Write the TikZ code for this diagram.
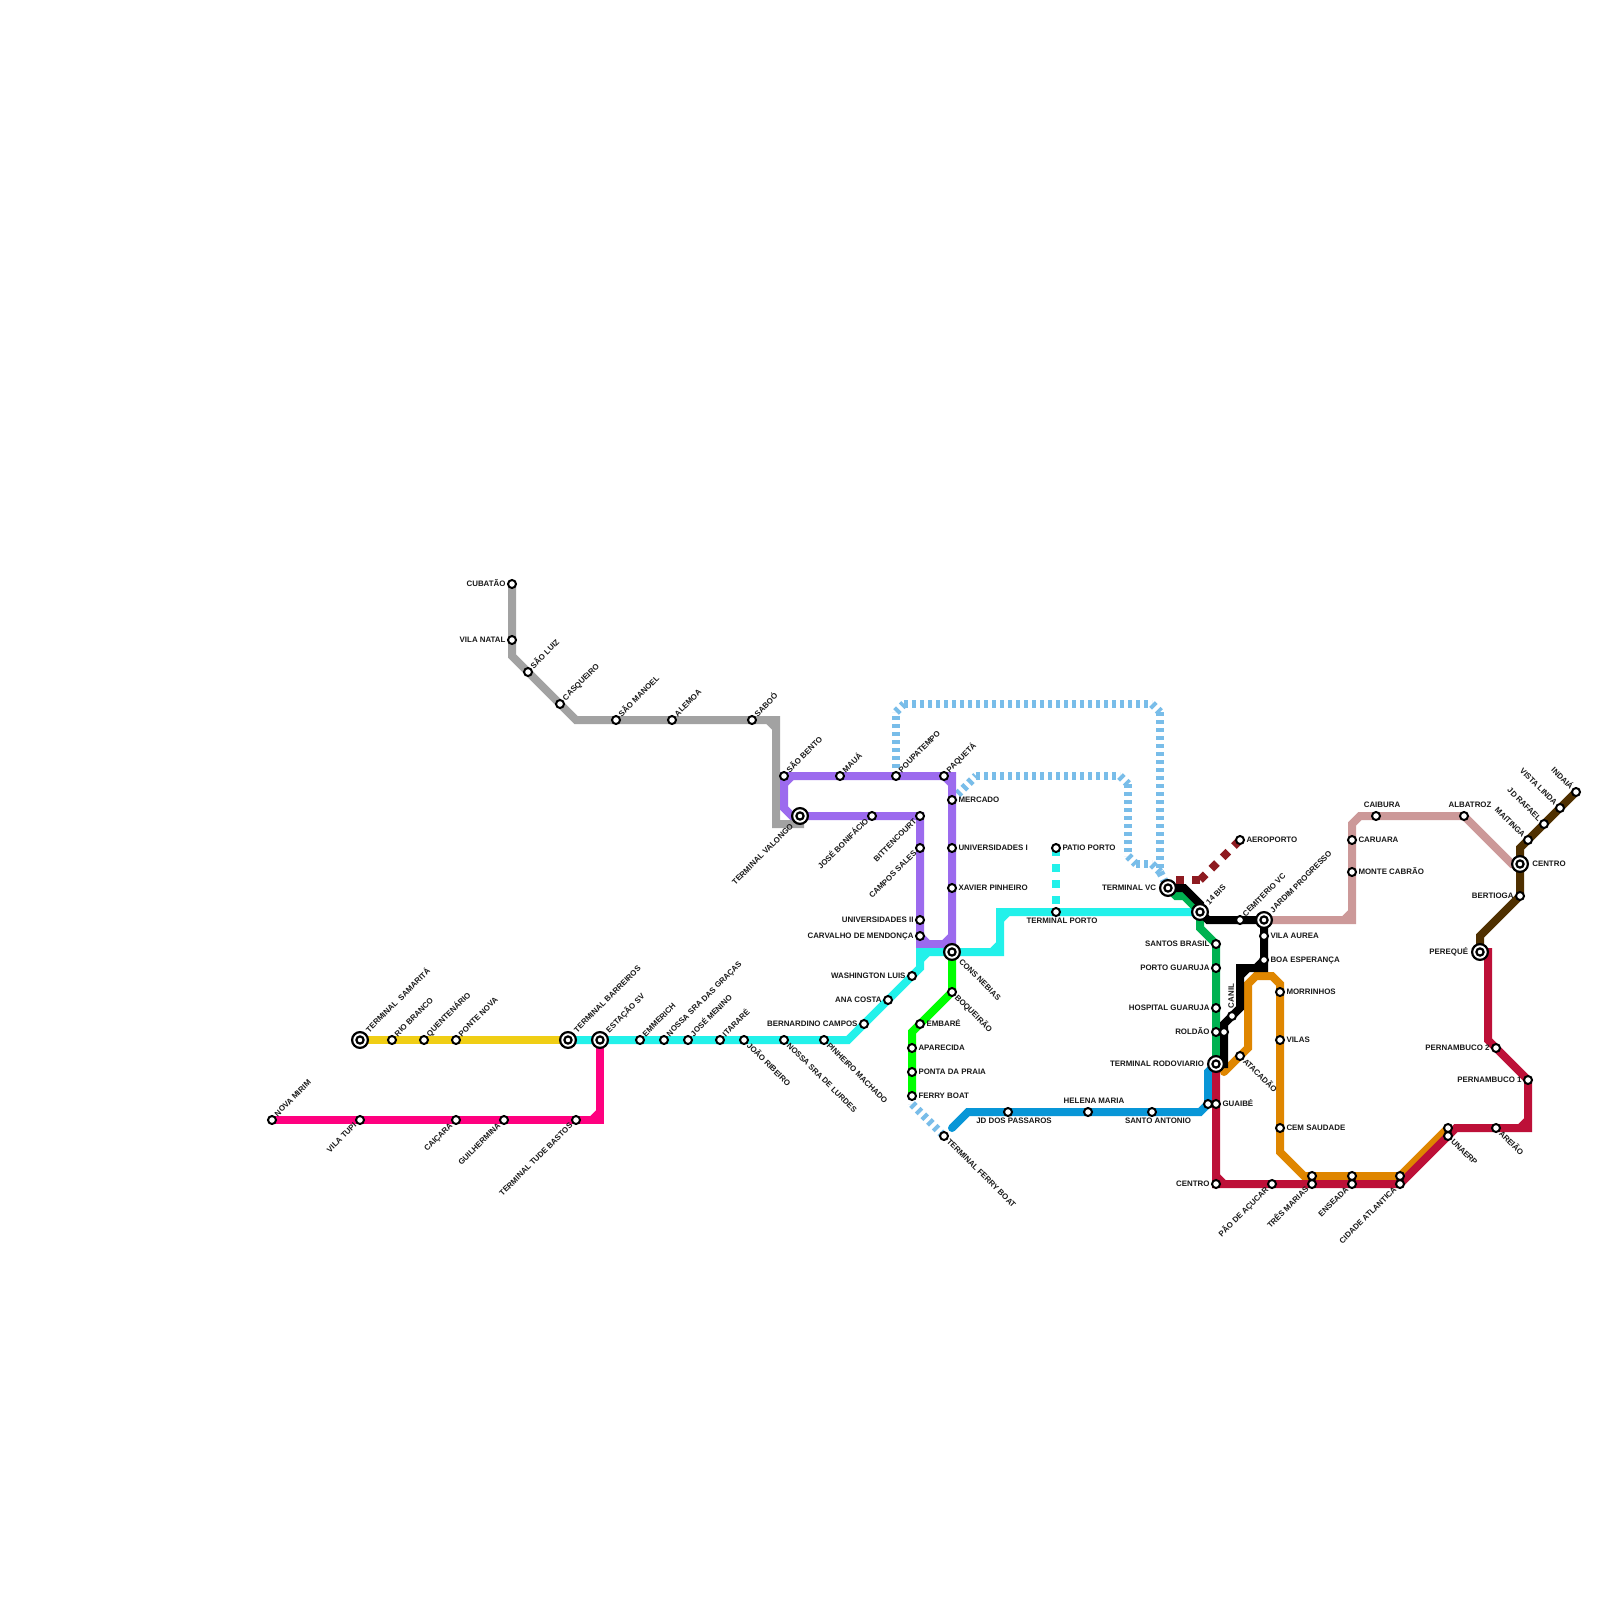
\documentclass[tikz,border=0pt]{standalone}
\usepackage{fontspec}
\setmainfont{Liberation Sans}
\usetikzlibrary{calc}
\definecolor{cYel}{HTML}{F0CE15}
\definecolor{cPnk}{HTML}{FF007F}
\definecolor{cCya}{HTML}{22F1EA}
\definecolor{cGry}{HTML}{A2A2A2}
\definecolor{cPur}{HTML}{9C6BEE}
\definecolor{cLim}{HTML}{00FF00}
\definecolor{cGrn}{HTML}{00B251}
\definecolor{cBlu}{HTML}{0896D7}
\definecolor{cRed}{HTML}{BD1038}
\definecolor{cOra}{HTML}{DF8600}
\definecolor{cRos}{HTML}{CC9999}
\definecolor{cBrn}{HTML}{4F3000}
\definecolor{cSky}{HTML}{79BDE9}
\definecolor{cWin}{HTML}{8E1B21}
\pgfdeclarelayer{lines}
\pgfsetlayers{lines,main}
\tikzset{
  ln/.style={line width=8pt,line join=miter,miter limit=10,line cap=butt},
  sq/.style={ln,dash pattern=on 8pt off 8pt},
  dot/.style={ln,dash pattern=on 4pt off 4pt},
  kindS/.style={circle,draw=black,fill=white,line width=2pt,minimum size=8pt,inner sep=0pt,outer sep=0pt},
  kindB/.style={circle,draw=black,fill=white,line width=2.2pt,minimum size=15.8pt,inner sep=0pt,outer sep=0pt,
    path picture={\draw[line width=2.2pt,fill=white] (path picture bounding box.center) circle (3.6pt);}},
  lbl/.style={font=\bfseries\fontsize{7.9}{9}\selectfont,inner sep=0pt,outer sep=0pt,text height=5.7pt,text depth=0pt,text=black!90},
  dR/.style={anchor=west},
  dL/.style={anchor=east},
  dNE/.style={anchor=west,rotate=45},
  dSE/.style={anchor=west,rotate=-45},
  dSW/.style={anchor=east,rotate=45},
  dNW/.style={anchor=east,rotate=-45},
  dA/.style={anchor=center},
  dB/.style={anchor=center},
  dU/.style={anchor=west,rotate=90},
}
% label offsets
\def\oxSR{6.5}\def\oySR{-.7}
\def\oxSL{-6.5}\def\oySL{-.7}
\def\oxSNE{3.8}\def\oySNE{-5}
\def\oxSSE{4.5}\def\oySSE{4}
\def\oxSSW{-5}\def\oySSW{4}
\def\oxSNW{-4}\def\oySNW{-4}
\def\oxSA{6}\def\oySA{-11}
\def\oxSB{6}\def\oySB{9}
\def\oxSU{-1}\def\oySU{-8}
\def\oxBR{12.3}\def\oyBR{-.7}
\def\oxBL{-12}\def\oyBL{-.7}
\def\oxBNE{7.3}\def\oyBNE{-9}
\def\oxBSE{8.7}\def\oyBSE{8}
\def\oxBSW{-8.3}\def\oyBSW{9}
% id x y kind dir text
\newcommand{\st}[6]{%
  \node[kind#4] (#1) at (#2,#3) {};
  \path (#1.center) ++(\csname ox#4#5\endcsname,\csname oy#4#5\endcsname) node[lbl,d#5] (#1-l) {#6};
}
\newcommand{\stn}[3]{\node[kindS] (#1) at (#2,#3) {};}
% inner chamfer patch at a corner
\newcommand{\cham}[4]{\draw[ln,#1] ($(#2)+(#3)$) -- ($(#2)+(#4)$);}
\begin{document}
\begin{tikzpicture}[x=1pt,y=-1pt]
\useasboundingbox (0,0) rectangle (1600,1600);
% ---------- stations
\st{sam}{360}{1040}{B}{NE}{TERMINAL\ \ SAMARITÁ}
\st{rib}{392}{1040}{S}{NE}{RIO BRANCO}
\st{que}{424}{1040}{S}{NE}{QUENTENÁRIO}
\st{pno}{456}{1040}{S}{NE}{PONTE NOVA}
\st{bar}{568}{1040}{B}{NE}{TERMINAL BARREIROS}
\st{esv}{600}{1040}{B}{NE}{ESTAÇÃO SV}
\st{emm}{640}{1040}{S}{NE}{EMMERICH}
\st{nsg}{664}{1040}{S}{NE}{NOSSA SRA DAS GRAÇAS}
\st{jme}{688}{1040}{S}{NE}{JOSÉ MENINO}
\st{ita}{720}{1040}{S}{NE}{ITARARÉ}
\st{joa}{744}{1040}{S}{SE}{JOÃO RIBEIRO}
\st{nsl}{784}{1040}{S}{SE}{NOSSA SRA DE LURDES}
\st{pin}{824}{1040}{S}{SE}{PINHEIRO MACHADO}
\st{brn}{864}{1024}{S}{L}{BERNARDINO CAMPOS}
\st{ana}{888}{1000}{S}{L}{ANA COSTA}
\st{was}{912}{976}{S}{L}{WASHINGTON LUIS}
\st{nmi}{272}{1120}{S}{NE}{NOVA MIRIM}
\st{vtu}{360}{1120}{S}{SW}{VILA TUPI}
\st{cai}{456}{1120}{S}{SW}{CAIÇARA}
\st{gui}{504}{1120}{S}{SW}{GUILHERMINA}
\st{tud}{576}{1120}{S}{SW}{TERMINAL TUDE BASTOS}
\st{cub}{512}{584}{S}{L}{CUBATÃO}
\st{vna}{512}{640}{S}{L}{VILA NATAL}
\st{slu}{528}{672}{S}{NE}{SÃO LUIZ}
\st{cas}{560}{704}{S}{NE}{CASQUEIRO}
\st{sma}{616}{720}{S}{NE}{SÃO MANOEL}
\st{ale}{672}{720}{S}{NE}{ALEMOA}
\st{sab}{752}{720}{S}{NE}{SABOÓ}
\st{val}{800}{816}{B}{SW}{TERMINAL VALONGO}
\st{sbe}{784}{776}{S}{NE}{SÃO BENTO}
\st{mau}{840}{776}{S}{NE}{MAUÁ}
\st{pou}{896}{776}{S}{NE}{POUPATEMPO}
\st{paq}{944}{776}{S}{NE}{PAQUETÁ}
\st{mer}{952}{800}{S}{R}{MERCADO}
\st{un1}{952}{848}{S}{R}{UNIVERSIDADES I}
\st{xav}{952}{888}{S}{R}{XAVIER PINHEIRO}
\st{jbo}{872}{816}{S}{SW}{JOSÉ BONIFÁCIO}
\st{bit}{920}{816}{S}{SW}{BITTENCOURT}
\st{csl}{920}{848}{S}{SW}{CAMPOS SALES}
\st{un2}{920}{920}{S}{L}{UNIVERSIDADES II}
\st{cmd}{920}{936}{S}{L}{CARVALHO DE MENDONÇA}
\st{con}{952}{952}{B}{SE}{CONS NEBIAS}
\st{boq}{952}{992}{S}{SE}{BOQUEIRÃO}
\st{emb}{920}{1024}{S}{R}{EMBARÉ}
\st{apa}{912}{1048}{S}{R}{APARECIDA}
\st{pon}{912}{1072}{S}{R}{PONTA DA PRAIA}
\st{fer}{912}{1096}{S}{R}{FERRY BOAT}
\st{tfb}{944}{1136}{S}{SE}{TERMINAL FERRY BOAT}
\st{ppo}{1056}{848}{S}{R}{PATIO PORTO}
\st{tpo}{1056}{912}{S}{B}{TERMINAL PORTO}
\st{tvc}{1168}{888}{B}{L}{TERMINAL VC}
\st{bis}{1200}{912}{B}{NE}{14 BIS}
\st{aer}{1240}{840}{S}{R}{AEROPORTO}
\st{cem}{1240}{920}{S}{NE}{CEMITERIO VC}
\st{jpr}{1264}{920}{B}{NE}{JARDIM PROGRESSO}
\st{vau}{1264}{936}{S}{R}{VILA AUREA}
\st{boa}{1264}{960}{S}{R}{BOA ESPERANÇA}
\st{sbr}{1216}{944}{S}{L}{SANTOS BRASIL}
\st{pgu}{1216}{968}{S}{L}{PORTO GUARUJA}
\st{hgu}{1216}{1008}{S}{L}{HOSPITAL GUARUJA}
\st{rol}{1216}{1032}{S}{L}{ROLDÃO}
\st{can}{1232}{1016}{S}{U}{CANIL}
\stn{rox}{1224}{1032}
\st{rod}{1216}{1064}{B}{L}{TERMINAL RODOVIARIO}
\st{ata}{1240}{1056}{S}{SE}{ATACADÃO}
\st{mor}{1280}{992}{S}{R}{MORRINHOS}
\st{vil}{1280}{1040}{S}{R}{VILAS}
\st{csa}{1280}{1128}{S}{R}{CEM SAUDADE}
\st{jdp}{1008}{1112}{S}{B}{JD DOS PASSAROS}
\st{hel}{1088}{1112}{S}{A}{HELENA MARIA}
\st{san}{1152}{1112}{S}{B}{SANTO ANTONIO}
\stn{gux}{1208}{1104}
\st{gua}{1216}{1104}{S}{R}{GUAIBÉ}
\st{cen}{1216}{1184}{S}{L}{CENTRO}
\st{pao}{1272}{1184}{S}{SW}{PÃO DE AÇUCAR}
\stn{tmt}{1312}{1176}
\st{tmb}{1312}{1184}{S}{SW}{TRÊS MARIAS}
\stn{ent}{1352}{1176}
\st{enb}{1352}{1184}{S}{SW}{ENSEADA}
\stn{cat}{1400}{1176}
\st{cab}{1400}{1184}{S}{SW}{CIDADE ATLANTICA}
\stn{unt}{1448}{1128}
\st{unb}{1448}{1136}{S}{SE}{UNAERP}
\st{are}{1496}{1128}{S}{SE}{AREIÃO}
\st{pe1}{1528}{1080}{S}{L}{PERNAMBUCO 1}
\st{pe2}{1496}{1048}{S}{L}{PERNAMBUCO 2}
\st{per}{1480}{952}{B}{L}{PEREQUÉ}
\st{ber}{1520}{896}{S}{L}{BERTIOGA}
\st{ctr}{1520}{864}{B}{R}{CENTRO}
\st{mai}{1528}{840}{S}{NW}{MAITINGA}
\st{jdr}{1544}{824}{S}{NW}{JD RAFAEL}
\st{vis}{1560}{808}{S}{NW}{VISTA LINDA}
\st{ind}{1576}{792}{S}{NW}{INDAIÁ}
\st{car}{1352}{840}{S}{R}{CARUARA}
\st{mca}{1352}{872}{S}{R}{MONTE CABRÃO}
\st{cbu}{1376}{816}{S}{A}{CAIBURA}
\st{alb}{1464}{816}{S}{A}{ALBATROZ}
% ---------- bends
\foreach \n/\x/\y in {
  p1/600/1120, gy1/512/656, gy2/576/720, gy3/776/720, gy4/776/824, gy5/800/824,
  pu1/784/808, pu2/792/816, pu3/920/944, pu4/952/944, pu5/952/776,
  cy1/848/1040, cy2/920/968, cy3/920/952, cy4/1000/952, cy5/1000/912,
  li1/912/1032,
  sa1/896/712, sa2/904/704, sa3/1152/704, sa4/1160/712, sa5/1160/872,
  sb1/976/776, sb2/1120/776, sb3/1128/784, sb4/1128/856, sb5/1136/864, sb6/1152/864,
  sc1/912/1104,
  bl0/952/1128, bl1/968/1112, bl2/1200/1112, bl3/1208/1072,
  gr1/1176/896, gr2/1184/896, gr3/1200/928,
  bk1/1184/888, bk8/1200/904, bk2/1208/920, bk3/1264/968, bk4/1240/968, bk5/1240/1008, bk6/1224/1024, bk7/1224/1064,
  wi1/1176/880, wi2/1200/880,
  or0/1224/1072, or1/1248/1048, or2/1248/984, or3/1256/976, or4/1272/976, or5/1280/984, or6/1280/1152, or7/1304/1176,
  re1/1488/952, re2/1488/1040, re3/1528/1128, re4/1456/1128,
  br1/1480/936, br2/1520/848,
  ro1/1352/920, ro2/1352/824, ro3/1360/816, ro4/1512/864}
  {\coordinate (\n) at (\x,\y);}
% ---------- lines
\begin{pgfonlayer}{lines}
\fill[white] (0,0) rectangle (1600,1600);
\foreach \a/\b in {pou.center/sa1, sa1/sa2, sa2/sa3, sa3/sa4, sa4/sa5, sa5/tvc.center,
    mer.center/sb1, sb1/sb2, sb2/sb3, sb3/sb4, sb4/sb5, sb5/sb6, sb6/sa5,
    fer.center/sc1, sc1/tfb.center}
  {\draw[dot,cSky] (\a) -- (\b);}
\draw[ln,cGry] (cub.center) -- (vna.center) -- (gy1) -- (slu.center) -- (cas.center) -- (gy2) -- (sma.center) -- (ale.center) -- (sab.center) -- (gy3) -- (gy4) -- (gy5) -- (val.center);
\cham{cGry}{gy3}{-8,0}{0,8}
\draw[ln,cPur] (sbe.center) -- (pu1) -- (pu2) -- (val.center) -- (jbo.center) -- (bit.center) -- (csl.center) -- (un2.center) -- (cmd.center) -- (pu3) -- (pu4) -- (con.center) -- (xav.center) -- (un1.center) -- (mer.center) -- (pu5) -- (paq.center) -- (pou.center) -- (mau.center) -- cycle;
\cham{cPur}{sbe.center}{0,8}{8,0}
\cham{cPur}{pu5}{-8,0}{0,8}
\cham{cPur}{pu3}{0,-8}{8,0}
\cham{cPur}{pu4}{-8,0}{0,-8}
\draw[ln,cYel] (sam.center) -- (rib.center) -- (que.center) -- (pno.center) -- (bar.center);
\draw[ln,cPnk] (esv.center) -- (p1) -- (tud.center) -- (gui.center) -- (cai.center) -- (vtu.center) -- (nmi.center);
\cham{cPnk}{p1}{-8,0}{0,-8}
\draw[ln,cCya] (bar.center) -- (esv.center) -- (emm.center) -- (nsg.center) -- (jme.center) -- (ita.center) -- (joa.center) -- (nsl.center) -- (pin.center) -- (cy1) -- (brn.center) -- (ana.center) -- (was.center) -- (cy2) -- (cy3) -- (con.center) -- (cy4) -- (cy5) -- (tpo.center) -- (bis.center);
\cham{cCya}{cy3}{0,8}{8,0}
\cham{cCya}{cy4}{-8,0}{0,-8}
\cham{cCya}{cy5}{0,8}{8,0}
\draw[sq,cCya] (ppo.center) -- (tpo.center);
\draw[ln,cLim] (con.center) -- (boq.center) -- (emb.center) -- (li1) -- (apa.center) -- (pon.center) -- (fer.center);
\draw[ln,cBlu,line cap=round] (bl0) -- (bl1) -- (jdp.center) -- (hel.center) -- (san.center) -- (bl2) -- (gux.center) -- (bl3) -- (rod.center);
\draw[ln,cGrn] (tvc.center) -- (gr1) -- (gr2) -- (bis.center) -- (gr3) -- (sbr.center) -- (pgu.center) -- (hgu.center) -- (rol.center) -- (rod.center);
\draw[ln,cOra,line cap=round] (or0) -- (ata.center) -- (or1) -- (or2) -- (or3) -- (or4) -- (or5) -- (mor.center) -- (vil.center) -- (csa.center) -- (or6) -- (or7) -- (tmt.center) -- (ent.center) -- (cat.center) -- (unt.center);
\draw[ln,black] (tvc.center) -- (bk1) -- (bk8) -- (bis.center) -- (bk2) -- (cem.center) -- (jpr.center) -- (vau.center) -- (boa.center) -- (bk3) -- (bk4) -- (bk5) -- (can.center) -- (bk6) -- (rox.center) -- (bk7) -- (rod.center);
\cham{black}{bk3}{-8,0}{0,-8}
\cham{black}{bk4}{0,8}{8,0}
\draw[ln,cRed] (per.center) -- (re1) -- (re2) -- (pe2.center) -- (pe1.center) -- (re3) -- (are.center) -- (re4) -- (unb.center) -- (cab.center) -- (enb.center) -- (tmb.center) -- (pao.center) -- (cen.center) -- (gua.center) -- (rod.center);
\cham{cRed}{re3}{-8,0}{0,-8}
\cham{cRed}{cen.center}{0,-8}{8,0}
\draw[ln,cRos] (jpr.center) -- (ro1) -- (mca.center) -- (car.center) -- (ro2) -- (ro3) -- (cbu.center) -- (alb.center) -- (ro4) -- (ctr.center);
\cham{cRos}{ro1}{-8,0}{0,-8}
\draw[ln,cBrn] (per.center) -- (br1) -- (ber.center) -- (ctr.center) -- (br2) -- (mai.center) -- (jdr.center) -- (vis.center) -- (ind.center);
\draw[sq,cWin] (wi1) -- (wi2);
\draw[sq,cWin] (wi2) -- (aer.center);
\end{pgfonlayer}
\end{tikzpicture}
\end{document}
